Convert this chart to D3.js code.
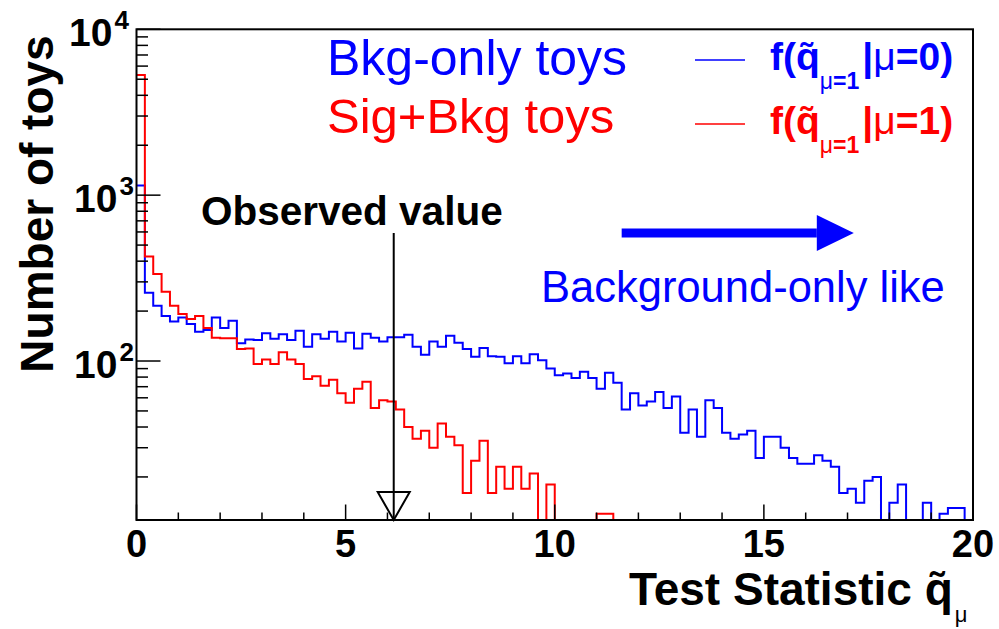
<!DOCTYPE html>
<html>
<head>
<meta charset="utf-8">
<script src="https://cdnjs.cloudflare.com/ajax/libs/d3/7.8.5/d3.min.js"></script>
<style>
  body { margin: 0; background: #ffffff; }
  svg text { font-family: "Liberation Sans", Arial, Helvetica, sans-serif; }
</style>
</head>
<body>
<div id="chart"></div>
<script>
// histogram binning: 100 bins of 0.2 between 0 and 20
var binLow = 0
var binWidth = 0.2

// Bkg-only toys, f(q|mu=0)
var bkgCounts = [1142, 258, 215, 187, 173, 183, 167, 150, 154, 183,
                 158, 175, 128, 135, 134, 147, 136, 145, 134, 152,
                 122, 145, 136, 150, 131, 148, 119, 146, 138, 131,
                 139, 139, 144, 122, 109, 131, 122, 142, 129, 118,
                 106, 120, 107, 106, 97, 107, 97, 110, 101, 90,
                 82, 84, 79, 86, 79, 68, 85, 74, 51, 64,
                 54, 57, 65, 52, 61, 37, 51, 35, 58, 52,
                 37, 34, 36, 38, 26, 35, 35, 30, 26, 24,
                 24, 27, 25, 23, 16, 17, 14, 19, 20, 0,
                 14, 18, 0, 0, 14, 0, 12, 13, 13, 0]

// Sig+Bkg toys, f(q|mu=1)
var sigCounts = [5303, 426, 335, 262, 215, 192, 179, 187, 158, 138,
                 137, 137, 118, 119, 96, 102, 96, 113, 102, 96,
                 78, 81, 71, 77, 64, 56, 68, 75, 52, 58,
                 57, 51, 40, 34, 38, 30, 42, 35, 31, 16,
                 25, 33, 16, 23, 17, 23, 17, 21, 0, 18,
                 0, 0, 0, 0, 0, 12, 12, 0, 0, 0,
                 0, 0, 0, 0, 0, 0, 0, 0, 0, 0,
                 0, 0, 0, 0, 0, 0, 0, 0, 0, 0,
                 0, 0, 0, 0, 0, 0, 0, 0, 0, 0,
                 0, 0, 0, 0, 0, 0, 0, 0, 0, 0]

var xMajorTicks = [0, 5, 10, 15, 20]
var xTickLabels = ["0", "5", "10", "15", "20"]
var yDecades = [100, 1000, 10000]
var yDecadeExp = ["2", "3", "4"]
var observedValue = 6.15
var bkgLikeFrom = 11.6
var bkgLikeTo = 17.15

// set the dimensions and margins of the graph
var width = 999
    height = 629
var plotLeft = 136.5, plotRight = 973, plotTop = 29.3, plotBottom = 520
var yMin = 11, yMax = 10000

var svg = d3.select("#chart")
  .append("svg")
    .attr("width", width)
    .attr("height", height)

var x = d3.scaleLinear().domain([0, 20]).range([plotLeft, plotRight])
var y = d3.scaleLog().domain([yMin, yMax]).range([plotBottom, plotTop])

// step outline like ROOT "HIST" option
function stepPoints(counts) {
  var pts = []
  counts.forEach(function(c, i) {
    var yy = c > yMin ? y(c) : y(yMin)
    pts.push([x(binLow + i * binWidth), yy])
    pts.push([x(binLow + (i + 1) * binWidth), yy])
  })
  return pts
}

var line = d3.line()

svg.append("path")
  .attr("d", line(stepPoints(bkgCounts)))
  .attr("fill", "none")
  .attr("stroke", "#0000ff")
  .attr("stroke-width", 2)

svg.append("path")
  .attr("d", line(stepPoints(sigCounts)))
  .attr("fill", "none")
  .attr("stroke", "#ff0000")
  .attr("stroke-width", 2)

// frame
svg.append("rect")
  .attr("x", plotLeft).attr("y", plotTop)
  .attr("width", plotRight - plotLeft).attr("height", plotBottom - plotTop)
  .attr("fill", "none").attr("stroke", "#000").attr("stroke-width", 2)

// x ticks (every unit, longer every 5)
svg.selectAll("xticks")
  .data(d3.range(0, 21))
  .enter()
  .append("line")
    .attr("x1", function(d) { return x(d) })
    .attr("x2", function(d) { return x(d) })
    .attr("y1", plotBottom)
    .attr("y2", function(d) { return plotBottom - (d % 5 == 0 ? 15.5 : 7.5) })
    .attr("stroke", "#000").attr("stroke-width", 1.5)

svg.selectAll("xlabels")
  .data(xMajorTicks)
  .enter()
  .append("text")
    .attr("x", function(d) { return x(d) })
    .attr("y", 557)
    .attr("text-anchor", "middle")
    .attr("font-size", 38)
    .attr("font-weight", "bold")
    .text(function(d, i) { return xTickLabels[i] })

// y ticks, log axis
svg.selectAll("yticks")
  .data(y.ticks())
  .enter()
  .append("line")
    .attr("x1", plotLeft)
    .attr("x2", function(d) {
      var major = Math.abs(Math.log10(d) - Math.round(Math.log10(d))) < 1e-6
      return plotLeft + (major ? 24 : 11.5)
    })
    .attr("y1", function(d) { return y(d) })
    .attr("y2", function(d) { return y(d) })
    .attr("stroke", "#000").attr("stroke-width", 1.5)

var ylab = svg.selectAll("ylabels")
  .data(yDecades)
  .enter()
  .append("text")
    .attr("x", function(d) { return d == 10000 ? 69 : 74 })
    .attr("y", function(d) { return y(d) + 17 })
    .attr("font-size", 39)
    .attr("font-weight", "bold")
ylab.append("tspan").text("10")
ylab.append("tspan")
  .attr("font-size", 26)
  .attr("dx", 2)
  .attr("dy", -17)
  .text(function(d, i) { return yDecadeExp[i] })

// axis titles
svg.append("text")
  .attr("transform", "translate(53,204) rotate(-90)")
  .attr("text-anchor", "middle")
  .attr("font-size", 46)
  .attr("font-weight", "bold")
  .text("Number of toys")

var xt = svg.append("text")
  .attr("x", 629).attr("y", 605)
  .attr("font-size", 46)
  .attr("font-weight", "bold")
xt.append("tspan").text("Test Statistic q\u0303")
xt.append("tspan")
  .attr("font-size", 22).attr("font-weight", "normal")
  .attr("dx", 2).attr("dy", 17)
  .text("\u03bc")

// labels in the pad
svg.append("text")
  .attr("x", 327).attr("y", 75)
  .attr("font-size", 50).attr("fill", "#0000ff")
  .text("Bkg-only toys")
svg.append("text")
  .attr("x", 327).attr("y", 133)
  .attr("font-size", 49).attr("fill", "#ff0000")
  .text("Sig+Bkg toys")

// legend
var legendRows = [
  { color: "#0000ff", mu: "0", y: 70, lineY: 60 },
  { color: "#ff0000", mu: "1", y: 134, lineY: 124 }
]
legendRows.forEach(function(r) {
  svg.append("line")
    .attr("x1", 695).attr("x2", 745)
    .attr("y1", r.lineY).attr("y2", r.lineY)
    .attr("stroke", r.color).attr("stroke-width", 1.7)
  var t = svg.append("text")
    .attr("x", 770).attr("y", r.y)
    .attr("font-size", 39).attr("font-weight", "bold")
    .attr("fill", r.color)
  t.append("tspan").text("f(q\u0303")
  t.append("tspan").attr("font-size", 23).attr("font-weight", "normal").attr("dy", 19).text("\u03bc")
  t.append("tspan").attr("font-size", 23).text("=1")
  t.append("tspan").attr("dy", -19).attr("dx", 3).text("|")
  t.append("tspan").attr("font-weight", "normal").text("\u03bc")
  t.append("tspan").text("=" + r.mu + ")")
})

// observed value marker
svg.append("text")
  .attr("x", 201).attr("y", 225)
  .attr("font-size", 40.5).attr("font-weight", "bold")
  .text("Observed value")
svg.append("line")
  .attr("x1", x(observedValue)).attr("x2", x(observedValue))
  .attr("y1", 233).attr("y2", plotBottom)
  .attr("stroke", "#000").attr("stroke-width", 2)
svg.append("path")
  .attr("d", "M" + (x(observedValue) - 16) + "," + 492 +
             "L" + (x(observedValue) + 16) + "," + 492 +
             "L" + x(observedValue) + "," + plotBottom + "Z")
  .attr("fill", "none").attr("stroke", "#000").attr("stroke-width", 2)

// background-only like arrow
svg.append("rect")
  .attr("x", x(bkgLikeFrom)).attr("y", 228.5)
  .attr("width", x(bkgLikeTo) - 37 - x(bkgLikeFrom)).attr("height", 9)
  .attr("fill", "#0000ff")
svg.append("path")
  .attr("d", "M" + (x(bkgLikeTo) - 37) + ",215L" + x(bkgLikeTo) + ",233L" + (x(bkgLikeTo) - 37) + ",251Z")
  .attr("fill", "#0000ff")
svg.append("text")
  .attr("x", 541).attr("y", 301.7)
  .attr("font-size", 43.5).attr("fill", "#0000ff")
  .text("Background-only like")
</script>
</body>
</html>
